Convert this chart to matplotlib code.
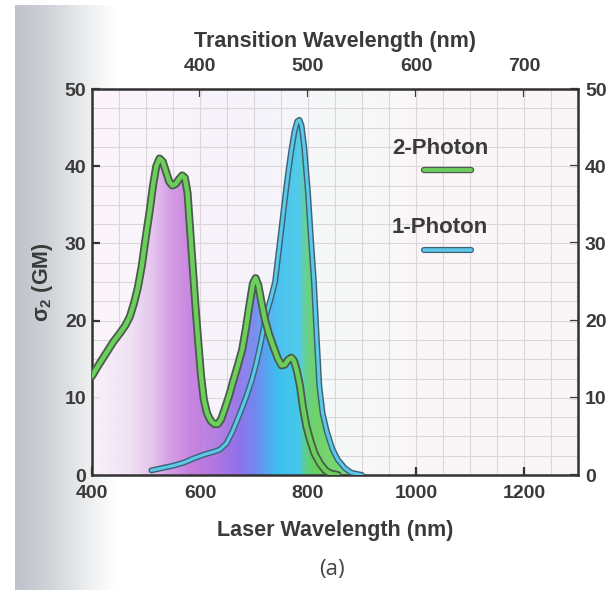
#!/usr/bin/env python3

import matplotlib.pyplot as plt
import matplotlib.patheffects as pe
import numpy as np
from matplotlib.colors import LinearSegmentedColormap
from matplotlib.patches import PathPatch

# two-photon cross section (GM) vs laser wavelength (nm)
laser_2p = [400, 410, 420, 430, 440, 452, 462, 470, 478, 485, 492, 500, 507,
            513, 519, 525, 531, 537, 543, 549, 555, 561, 567, 572, 577, 582,
            587, 592, 597, 602, 607, 613, 620, 627, 633, 639, 646, 654, 662,
            670, 678, 685, 692, 698, 703, 708, 714, 720, 728, 736, 744, 751,
            757, 763, 769, 774, 779, 785, 791, 797, 804, 812, 822, 832, 841,
            855]
sigma_2p = [12.8, 14.0, 15.1, 16.2, 17.3, 18.4, 19.4, 20.5, 22.3, 24.3, 27.0,
            31.0, 34.3, 37.5, 40.0, 41.0, 40.6, 39.3, 38.0, 37.5, 37.7, 38.3,
            38.8, 38.5, 36.5, 31.5, 26.5, 21.5, 17.0, 12.8, 9.8, 8.0, 7.0,
            6.6, 6.6, 7.2, 8.6, 10.3, 12.3, 14.2, 16.2, 19.0, 22.2, 24.8,
            25.5, 24.6, 22.3, 20.2, 18.2, 16.6, 15.1, 14.2, 14.3, 14.9, 15.2,
            14.8, 13.6, 11.6, 8.6, 6.3, 4.5, 2.8, 1.5, 0.6, 0.2, 0.0]

# one-photon absorption (scaled) vs laser wavelength (nm)
laser_1p = [510, 530, 550, 570, 590, 610, 625, 637, 649, 660, 674, 685, 696,
            704, 711, 717, 723, 731, 739, 745, 751, 757, 763, 769, 775, 780,
            784, 788, 793, 800, 806, 811, 816, 821, 827, 835, 845, 855, 868,
            880, 900]
sigma_1p = [0.6, 0.9, 1.2, 1.6, 2.2, 2.7, 3.0, 3.3, 4.1, 5.6, 8.0, 10.0, 12.3,
            14.4, 16.6, 18.7, 20.9, 22.8, 25.0, 28.5, 32.0, 35.6, 39.0, 42.0,
            44.5, 45.8, 46.0, 45.3, 42.5, 36.5, 30.0, 25.0, 18.0, 11.5, 8.0,
            5.6, 3.4, 2.0, 0.9, 0.3, 0.0]

bottom_ticks = [400, 600, 800, 1000, 1200]
top_ticks = [400, 500, 600, 700]
y_ticks = [0, 10, 20, 30, 40, 50]
series_names = ["2-Photon", "1-Photon"]

TXT = "#3a3a3a"


def main():
    plt.rcParams["font.family"] = ["Liberation Sans", "DejaVu Sans"]
    plt.rcParams["font.weight"] = "bold"
    plt.rcParams["axes.labelweight"] = "bold"
    plt.rcParams["mathtext.fontset"] = "custom"
    plt.rcParams["mathtext.bf"] = "Liberation Sans:bold"
    plt.rcParams["mathtext.rm"] = "Liberation Sans:bold"
    plt.rcParams["mathtext.default"] = "bf"

    fig = plt.figure(figsize=(6.08, 5.90), dpi=100)

    # scanner shadow on the left page edge
    shadow = fig.add_axes([15 / 608, 0, 100 / 608, 585 / 590])
    shade = LinearSegmentedColormap.from_list(
        "shade", ["#bfc3ca", "#cfd2d7", "#e8eaec", "#ffffff"])
    shadow.imshow(np.linspace(0, 1, 200)[None, :], cmap=shade, aspect="auto")
    shadow.axis("off")

    ax = fig.add_axes([92 / 608, 115 / 590, 486 / 608, 386 / 590])
    ext = [400, 1300, 0, 50]
    xs = np.linspace(400, 1300, 900)[None, :]

    # pale pastel tint of the graph paper
    paper = LinearSegmentedColormap.from_list("paper", [
        (0.00, "#fcf6fb"), (0.20, "#f9f3fb"), (0.35, "#f6f4fc"),
        (0.50, "#f5f9f7"), (0.65, "#faf7f8"), (1.00, "#fbf5f7")])
    ax.imshow(xs, cmap=paper, extent=ext, aspect="auto", zorder=0)

    rainbow = LinearSegmentedColormap.from_list("rainbow", [
        ((400 - 400) / 900, "#f8f2f8"), ((470 - 400) / 900, "#f0e0f3"),
        ((510 - 400) / 900, "#e4c2ec"), ((540 - 400) / 900, "#d49ce6"),
        ((580 - 400) / 900, "#c67ede"), ((630 - 400) / 900, "#b076e0"),
        ((670 - 400) / 900, "#9272ea"), ((700 - 400) / 900, "#7288f0"),
        ((725 - 400) / 900, "#52a8f0"), ((745 - 400) / 900, "#3ec0f0"),
        ((783 - 400) / 900, "#46c8ea"), ((795 - 400) / 900, "#5ccf8c"),
        ((812 - 400) / 900, "#66d060"), ((880 - 400) / 900, "#74d86c"),
        (1.0, "#a0e8a0")])

    for lx, ly in [(laser_2p, sigma_2p), (laser_1p, sigma_1p)]:
        poly = ax.fill_between(lx, ly, 0, color="none", lw=0)
        patch = PathPatch(poly.get_paths()[0], transform=ax.transData,
                          fc="none", ec="none")
        ax.add_patch(patch)
        im = ax.imshow(xs, cmap=rainbow, extent=ext, aspect="auto",
                       zorder=1, alpha=0.93)
        im.set_clip_path(patch)

    ax.plot(laser_1p, sigma_1p, color="#5cc8ea", lw=2.2, zorder=3,
            solid_joinstyle="round", solid_capstyle="round",
            path_effects=[pe.Stroke(linewidth=4.3, foreground="#3d6476"),
                          pe.Normal()])
    ax.plot(laser_2p, sigma_2p, color="#6ccf5c", lw=3.2, zorder=4,
            solid_joinstyle="round", solid_capstyle="round",
            path_effects=[pe.Stroke(linewidth=5.8, foreground="#4a5c4a"),
                          pe.Normal()])

    # legend: label above a short sample line
    ax.text(0.716, 0.847, series_names[0], transform=ax.transAxes,
            ha="center", va="center", fontsize=16, color=TXT)
    ax.plot([0.683, 0.780], [0.79, 0.79], transform=ax.transAxes,
            color="#6ccf5c", lw=2.8, solid_capstyle="round",
            path_effects=[pe.Stroke(linewidth=4.6, foreground="#4a5c4a"),
                          pe.Normal()])
    ax.text(0.716, 0.64, series_names[1], transform=ax.transAxes,
            ha="center", va="center", fontsize=16, color=TXT)
    ax.plot([0.683, 0.780], [0.583, 0.583], transform=ax.transAxes,
            color="#5cc8ea", lw=2.6, solid_capstyle="round",
            path_effects=[pe.Stroke(linewidth=4.4, foreground="#3d6476"),
                          pe.Normal()])

    ax.set_xlim(400, 1300)
    ax.set_ylim(0, 50)
    ax.set_xticks(bottom_ticks)
    ax.set_yticks(y_ticks)
    ax.set_xticks(np.arange(400, 1301, 50), minor=True)
    ax.set_yticks(np.arange(0, 50.1, 2.5), minor=True)
    ax.grid(True, which="both", color="#ddd5dc", lw=0.8)
    ax.set_axisbelow(True)
    ax.tick_params(which="minor", length=0)
    ax.tick_params(which="major", direction="in", length=6, width=1.6,
                   labelsize=14, colors="#333333", labelcolor=TXT)
    ax.tick_params(axis="x", pad=7)
    ax.tick_params(axis="y", pad=4)
    for s in ax.spines.values():
        s.set_linewidth(1.8)
        s.set_color("#333333")

    top = ax.secondary_xaxis(
        "top", functions=(lambda v: v / 2 + 100, lambda v: (v - 100) * 2))
    top.set_xticks(top_ticks)
    top.tick_params(direction="in", length=6, width=1.6, labelsize=14,
                    colors="#333333", labelcolor=TXT, pad=10)
    top.set_xlabel("Transition Wavelength (nm)", fontsize=15.5, color=TXT,
                   labelpad=8)

    right = ax.secondary_yaxis("right", functions=(lambda v: v, lambda v: v))
    right.set_yticks(y_ticks)
    right.tick_params(direction="in", length=6, width=1.6, labelsize=14,
                      colors="#333333", labelcolor=TXT, pad=5)

    ax.set_xlabel("Laser Wavelength (nm)", fontsize=15.5, color=TXT,
                  labelpad=13)
    ax.set_ylabel(r"$\sigma_2$ (GM)", fontsize=15.5, color=TXT, labelpad=7)

    fig.text(332 / 608, 1 - 569 / 590, "(a)", family="Open Sans",
             weight="normal", fontsize=16, color="#444444",
             ha="center", va="center")

    fig.savefig("out.png", dpi=100)


if __name__ == "__main__":
    main()
